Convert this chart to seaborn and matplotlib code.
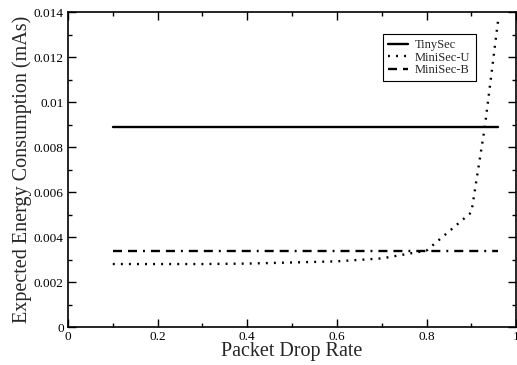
import pandas as pd
import seaborn as sns
import matplotlib.pyplot as plt
from matplotlib.ticker import MultipleLocator, FuncFormatter

# packet drop rate (x) and expected energy (mAs)
tinysec_x = [0.1, 0.96]
tinysec_y = [0.0089, 0.0089]

minisec_u_x = [0.1, 0.2, 0.3, 0.4, 0.5, 0.6, 0.7, 0.8, 0.9, 0.93, 0.96]
minisec_u_y = [0.0028, 0.0028, 0.0028, 0.00282, 0.00287, 0.00292, 0.00305,
               0.0034, 0.0051, 0.0089, 0.0137]

minisec_b_x = [0.1, 0.96]
minisec_b_y = [0.0034, 0.0034]

series = ['TinySec', 'MiniSec-U', 'MiniSec-B']

df = pd.concat([
    pd.DataFrame({'rate': tinysec_x, 'energy': tinysec_y, 'System': 'TinySec'}),
    pd.DataFrame({'rate': minisec_u_x, 'energy': minisec_u_y, 'System': 'MiniSec-U'}),
    pd.DataFrame({'rate': minisec_b_x, 'energy': minisec_b_y, 'System': 'MiniSec-B'}),
], ignore_index=True)

sns.set_style('ticks')
plt.rcParams['font.family'] = ['Liberation Serif', 'DejaVu Serif']
plt.rcParams['lines.scale_dashes'] = False

fig = plt.figure(figsize=(5.17, 3.65), dpi=100)
ax = fig.add_axes([0.1315, 0.104, 0.867, 0.863])

dashes = {'TinySec': '', 'MiniSec-U': (1.4, 4.4), 'MiniSec-B': (6.5, 4.3, 6.5, 4.3, 1.4, 4.3)}
sns.lineplot(data=df, x='rate', y='energy', style='System', style_order=series,
             dashes=dashes, color='black', linewidth=1.7, ax=ax)

ax.set_xlim(0, 1)
ax.set_ylim(0, 0.014)
ax.xaxis.set_major_locator(MultipleLocator(0.2))
ax.xaxis.set_minor_locator(MultipleLocator(0.1))
ax.yaxis.set_major_locator(MultipleLocator(0.002))
ax.yaxis.set_minor_locator(MultipleLocator(0.001))
fmt = FuncFormatter(lambda v, p: '%g' % round(v, 4))
ax.xaxis.set_major_formatter(fmt)
ax.yaxis.set_major_formatter(fmt)
ax.tick_params(which='both', direction='in', top=True, right=True, labelsize=9.5, pad=3,
               width=1, colors='black')
ax.tick_params(which='major', length=6)
ax.tick_params(which='minor', length=3)
for s in ax.spines.values():
    s.set_linewidth(1.2)
    s.set_color('black')

ax.set_xlabel('Packet Drop Rate', fontsize=14.5, labelpad=-1)
ax.set_ylabel('Expected Energy Consumption (mAs)', fontsize=14.5, labelpad=1)

leg = ax.legend(loc='upper left', bbox_to_anchor=(0.688, 0.95), fontsize=9,
                frameon=True, fancybox=False, edgecolor='black', framealpha=1,
                handlelength=1.6, borderpad=0.4, labelspacing=0.05, handletextpad=0.6)
leg.get_frame().set_linewidth(0.8)

plt.savefig('out.png', dpi=100)
